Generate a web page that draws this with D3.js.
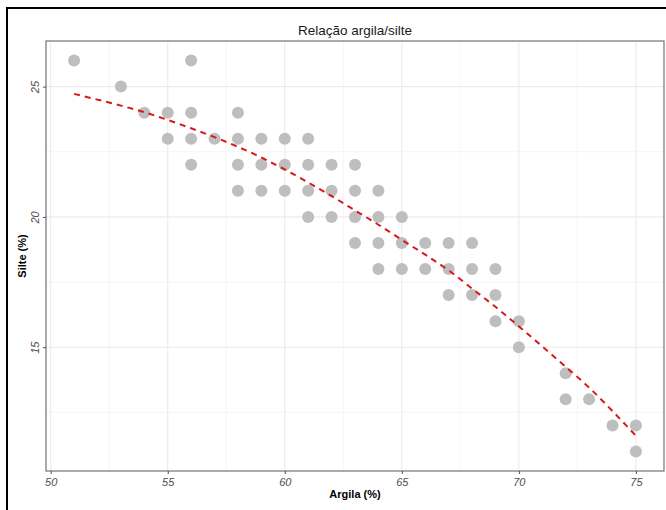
<!DOCTYPE html>
<html>
  <head>
    <script src="https://d3js.org/d3.v7.min.js"></script>
    <style>
      body { margin: 0; background: #fff; }
      svg { font-family: "Liberation Sans", Arial, sans-serif; }
      .tick text { font-style: italic; fill: #4d4d4d; font-size: 11px; }
      .tick line { stroke: #4d4d4d; }
      .domain { display: none; }
    </style>
  </head>
  <body>
    <svg id="chart" width="666" height="510"></svg>
    <script>
      // data points
      const argila = [51, 53, 54, 55, 55, 56, 56, 56, 56, 57,
                      58, 58, 58, 58, 59, 59, 59, 60, 60, 60,
                      61, 61, 61, 61, 62, 62, 62, 63, 63, 63, 63,
                      64, 64, 64, 64, 65, 65, 65, 66, 66,
                      67, 67, 67, 68, 68, 68, 69, 69, 69,
                      70, 70, 72, 72, 73, 74, 75, 75];
      const silte = [26, 25, 24, 24, 23, 26, 24, 23, 22, 23,
                     24, 23, 22, 21, 23, 22, 21, 23, 22, 21,
                     23, 22, 21, 20, 22, 21, 20, 22, 21, 20, 19,
                     21, 20, 19, 18, 20, 19, 18, 19, 18,
                     19, 18, 17, 19, 18, 17, 18, 17, 16,
                     16, 15, 14, 13, 13, 12, 12, 11];
      // smoothed trend (dashed red)
      const smoothX = [51, 52, 53, 54, 55, 56, 57, 58, 59, 60, 61, 62, 63,
                       64, 65, 66, 67, 68, 69, 70, 71, 72, 73, 74, 75];
      const smoothY = [24.72, 24.5, 24.27, 24.02, 23.72, 23.4, 23.06, 22.69, 22.28, 21.82, 21.32, 20.8, 20.25,
                       19.7, 19.12, 18.55, 17.95, 17.25, 16.55, 15.8, 15.03, 14.25, 13.45, 12.55, 11.6];
      const xTicks = [50, 55, 60, 65, 70, 75];
      const yTicks = [15, 20, 25];
      const xMinor = [52.5, 57.5, 62.5, 67.5, 72.5];
      const yMinor = [12.5, 17.5, 22.5];

      const svg = d3.select("#chart");
      const panel = {left: 46, right: 664, top: 41, bottom: 471};

      // outer frame
      svg.append("rect")
        .attr("x", 7).attr("y", 8)
        .attr("width", 700).attr("height", 600)
        .attr("fill", "none")
        .attr("stroke", "black")
        .attr("stroke-width", 2);

      const x = d3.scaleLinear().domain([49.8, 76.2]).range([panel.left, panel.right]);
      const y = d3.scaleLinear().domain([10.25, 26.75]).range([panel.bottom, panel.top]);

      // grid
      const grid = svg.append("g");
      grid.selectAll("line.vminor").data(xMinor).join("line")
        .attr("x1", d => x(d)).attr("x2", d => x(d))
        .attr("y1", panel.top).attr("y2", panel.bottom)
        .attr("stroke", "#f2f2f2").attr("stroke-width", 0.8);
      grid.selectAll("line.hminor").data(yMinor).join("line")
        .attr("y1", d => y(d)).attr("y2", d => y(d))
        .attr("x1", panel.left).attr("x2", panel.right)
        .attr("stroke", "#f2f2f2").attr("stroke-width", 0.8);
      grid.selectAll("line.vmajor").data(xTicks).join("line")
        .attr("x1", d => x(d)).attr("x2", d => x(d))
        .attr("y1", panel.top).attr("y2", panel.bottom)
        .attr("stroke", "#ebebeb").attr("stroke-width", 1.1);
      grid.selectAll("line.hmajor").data(yTicks).join("line")
        .attr("y1", d => y(d)).attr("y2", d => y(d))
        .attr("x1", panel.left).attr("x2", panel.right)
        .attr("stroke", "#ebebeb").attr("stroke-width", 1.1);

      // points
      svg.append("g").selectAll("circle").data(argila).join("circle")
        .attr("cx", d => x(d))
        .attr("cy", (d, i) => y(silte[i]))
        .attr("r", 6)
        .attr("fill", "#bebebe");

      // dashed trend
      const line = d3.line()
        .x((d, i) => x(d))
        .y((d, i) => y(smoothY[i]))
        .curve(d3.curveMonotoneX);
      svg.append("path")
        .attr("d", line(smoothX))
        .attr("fill", "none")
        .attr("stroke", "#d7191c")
        .attr("stroke-width", 2)
        .attr("stroke-dasharray", "6,5");

      // panel border
      svg.append("rect")
        .attr("x", panel.left).attr("y", panel.top)
        .attr("width", panel.right - panel.left)
        .attr("height", panel.bottom - panel.top)
        .attr("fill", "none")
        .attr("stroke", "#7f7f7f")
        .attr("stroke-width", 1.3);

      // axes
      svg.append("g")
        .attr("transform", `translate(0,${panel.bottom})`)
        .call(d3.axisBottom(x).tickValues(xTicks).tickSize(3).tickPadding(4));
      const yAxis = svg.append("g")
        .attr("transform", `translate(${panel.left},0)`)
        .call(d3.axisLeft(y).tickValues(yTicks).tickSize(3).tickPadding(4));
      yAxis.selectAll(".tick text")
        .attr("transform", "rotate(-90)")
        .attr("x", 0).attr("y", -7)
        .attr("dy", 0)
        .attr("text-anchor", "middle");

      // titles
      svg.append("text")
        .attr("x", (panel.left + panel.right) / 2)
        .attr("y", 35)
        .attr("text-anchor", "middle")
        .attr("font-size", 13.5)
        .attr("fill", "#1a1a1a")
        .text("Relação argila/silte");
      svg.append("text")
        .attr("x", (panel.left + panel.right) / 2)
        .attr("y", 498)
        .attr("text-anchor", "middle")
        .attr("font-size", 11)
        .attr("font-weight", "bold")
        .text("Argila (%)");
      svg.append("text")
        .attr("transform", `translate(26,${(panel.top + panel.bottom) / 2}) rotate(-90)`)
        .attr("text-anchor", "middle")
        .attr("font-size", 11)
        .attr("font-weight", "bold")
        .text("Silte (%)");
    </script>
  </body>
</html>
